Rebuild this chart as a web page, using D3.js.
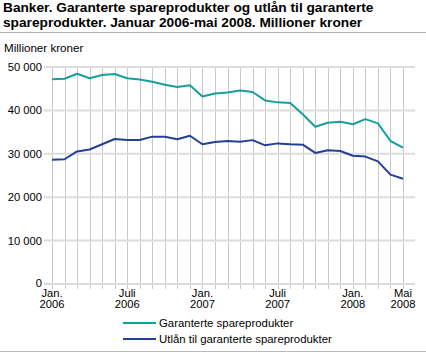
<!DOCTYPE html>
<html>
<head>
<meta charset="utf-8">
<script src="https://cdn.jsdelivr.net/npm/d3@7"></script>
<style>
  body { margin: 0; background: #fff; }
  text { font-family: "Liberation Sans", Arial, sans-serif; fill: #000; }
</style>
</head>
<body>
<div id="chart"></div>
<script>
// Data (millioner kroner, Jan 2006 - May 2008)
const months = d3.timeMonth.range(new Date(2006, 0, 1), new Date(2008, 5, 1));
const garanterte = [47150, 47300, 48450, 47400, 48150, 48400, 47400, 47100, 46600, 45900, 45400, 45800,
    43200, 43900, 44100, 44600, 44250, 42300, 41850, 41700, 39100, 36250, 37150, 37400,
    36800, 38000, 37000, 32950, 31400];
const utlan = [28650, 28750, 30550, 31000, 32200, 33400, 33200, 33200, 33950, 33950, 33350, 34150,
    32200, 32700, 32950, 32800, 33150, 31950, 32400, 32200, 32100, 30200, 30800, 30650,
    29550, 29350, 28250, 25200, 24250];
const yTicks = [0, 10000, 20000, 30000, 40000, 50000];
const xTickIdx = [0, 6, 12, 18, 24, 28];
const xTickLabels = [["Jan.", "2006"], ["Juli", "2006"], ["Jan.", "2007"], ["Juli", "2007"], ["Jan.", "2008"], ["Mai", "2008"]];
const seriesNames = ["Garanterte spareprodukter", "Utlån til garanterte spareprodukter"];
const colors = ["#17a09b", "#233f97"];

const width = 426, height = 354;
const margin = { top: 67, right: 17, bottom: 70, left: 52 };

const svg = d3.select("#chart").append("svg")
    .attr("width", width)
    .attr("height", height);

// title
const title = svg.append("text")
    .attr("x", 3)
    .attr("y", 11.5)
    .style("font-size", "13.7px")
    .style("font-weight", "bold");
title.append("tspan").attr("x", 3).text("Banker. Garanterte spareprodukter og utlån til garanterte");
title.append("tspan").attr("x", 3).attr("dy", 15).text("spareprodukter. Januar 2006-mai 2008. Millioner kroner");

svg.append("line")
    .attr("x1", 0).attr("x2", width)
    .attr("y1", 32.5).attr("y2", 32.5)
    .attr("stroke", "#b0b0b0");

svg.append("text")
    .attr("x", 4)
    .attr("y", 51.5)
    .style("font-size", "11.6px")
    .text("Millioner kroner");

let x = d3.scaleLinear()
    .domain([0, months.length - 1])
    .range([margin.left, width - margin.right - 6]);

let y = d3.scaleLinear()
    .domain([0, 50000])
    .range([height - margin.bottom, margin.top]);

// vertical grid lines, one per month
svg.append("g")
    .selectAll("line")
    .data(months)
    .join("line")
    .attr("x1", (d, i) => Math.round(x(i)) + 0.5)
    .attr("x2", (d, i) => Math.round(x(i)) + 0.5)
    .attr("y1", y(50000))
    .attr("y2", y(0) + 5)
    .attr("stroke", "#c8c8cc")
    .attr("stroke-width", 1);

// horizontal grid lines
svg.append("g")
    .selectAll("line")
    .data(yTicks)
    .join("line")
    .attr("x1", margin.left - 8)
    .attr("x2", width - 11)
    .attr("y1", d => y(d))
    .attr("y2", d => y(d))
    .attr("stroke", "#dcdcdc")
    .attr("stroke-width", 2);

// y tick labels
svg.append("g")
    .selectAll("text")
    .data(yTicks)
    .join("text")
    .attr("x", 42)
    .attr("y", d => d === 0 ? y(d) + 3 : y(d) + 4)
    .attr("text-anchor", "end")
    .style("font-size", "11.2px")
    .text(d => d3.format(",")(d).replace(",", " "));

// x tick labels
const xl = svg.append("g")
    .selectAll("text")
    .data(xTickIdx)
    .join("text")
    .attr("text-anchor", "middle")
    .style("font-size", "11.2px");
xl.append("tspan")
    .attr("x", d => x(d))
    .attr("y", 297)
    .text((d, i) => xTickLabels[i][0]);
xl.append("tspan")
    .attr("x", d => x(d))
    .attr("y", 308)
    .text((d, i) => xTickLabels[i][1]);

let line = d3.line()
    .x((d, i) => x(i))
    .y(d => y(d));

[garanterte, utlan].forEach((s, k) => {
    svg.append("path")
        .datum(s)
        .attr("d", line)
        .attr("fill", "none")
        .attr("stroke", colors[k])
        .attr("stroke-width", 2)
        .attr("stroke-linejoin", "round");
});

// legend
const leg = svg.append("g")
    .selectAll("g")
    .data(seriesNames)
    .join("g")
    .attr("transform", (d, i) => `translate(0,${323 + i * 16})`);
leg.append("line")
    .attr("x1", 123).attr("x2", 156)
    .attr("stroke", (d, i) => colors[i])
    .attr("stroke-width", 2);
leg.append("text")
    .attr("x", 159)
    .attr("y", 4)
    .style("font-size", "11.4px")
    .text(d => d);

svg.append("line")
    .attr("x1", 0).attr("x2", width)
    .attr("y1", 351.5).attr("y2", 351.5)
    .attr("stroke", "#b8b8b8");
</script>
</body>
</html>
